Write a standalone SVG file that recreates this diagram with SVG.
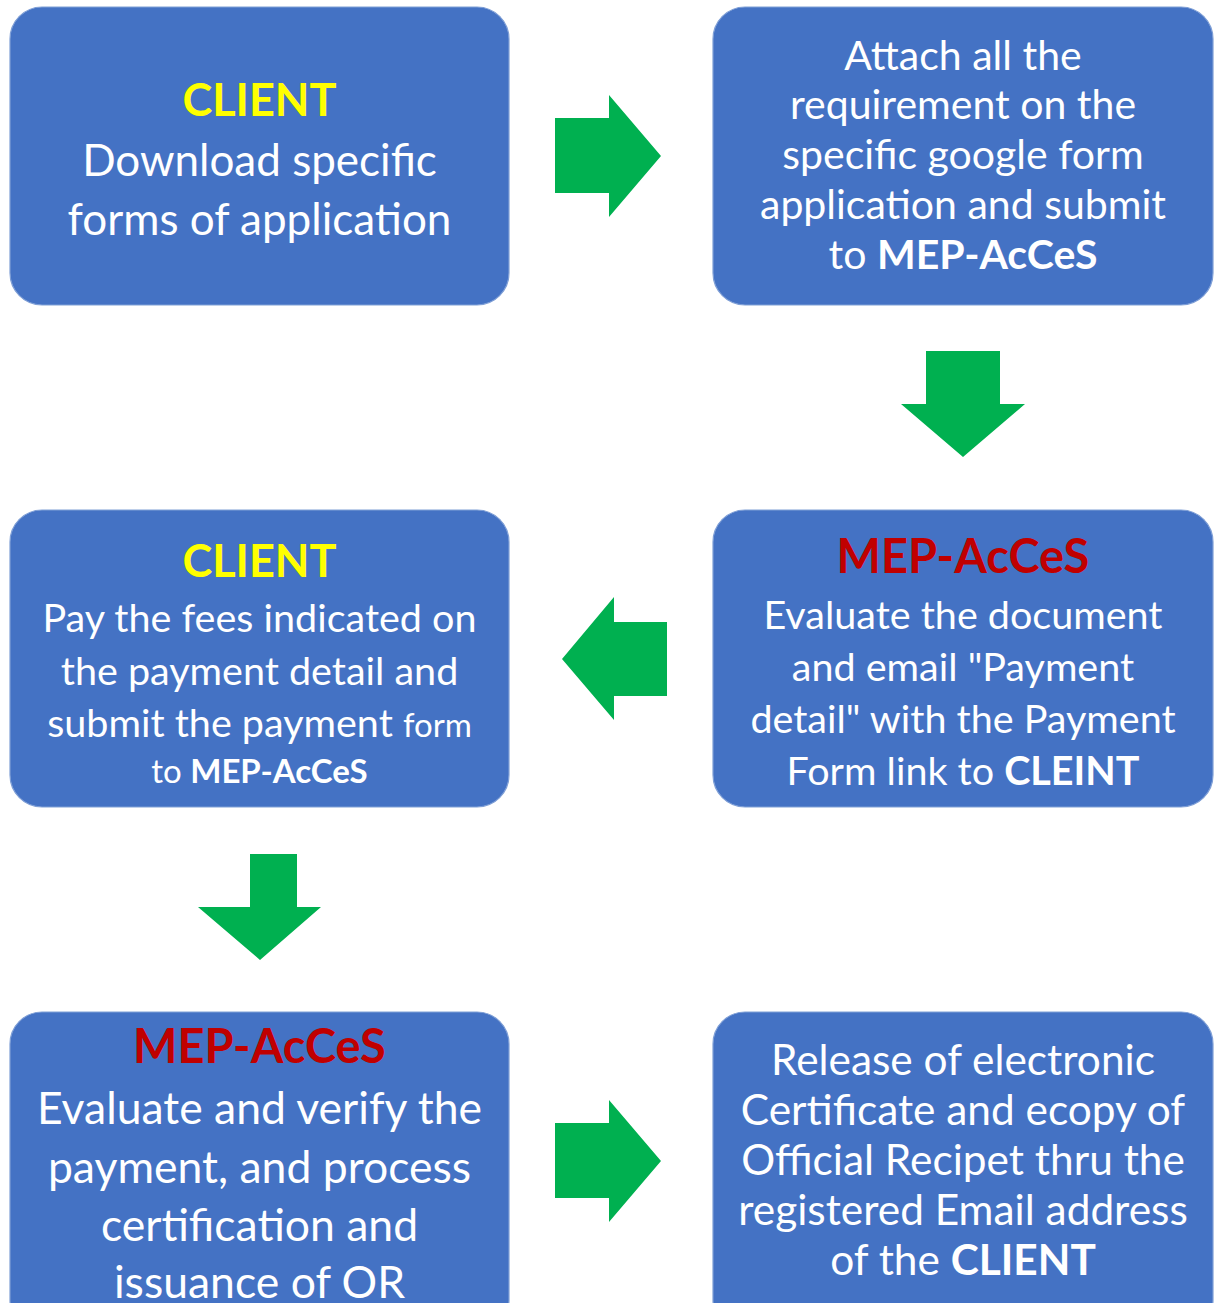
<svg xmlns="http://www.w3.org/2000/svg" width="1217" height="1303" viewBox="0 0 1217 1303">
  <style>
    .box { fill: #4472C4; stroke: #7f9fd6; stroke-width: 1.2; }
    .arrow { fill: #00B050; }
    text { font-family: Lato, "Open Sans", "Liberation Sans", sans-serif; fill: #FFFFFF; text-anchor: middle; }
    .who { font-weight: bold; }
    .client { fill: #FFFF00; }
    .mep { fill: #C00000; }
    .b { font-weight: bold; }
  </style>
  <rect width="1217" height="1303" fill="#FFFFFF"/>

  <!-- Step 1 -->
  <g id="step1-download">
    <rect class="box" x="10" y="7" width="499" height="298" rx="32"/>
    <text x="259.5" y="116" font-size="45" class="who client">CLIENT</text>
    <text x="259.5" y="176" font-size="44">Download specific</text>
    <text x="259.5" y="235" font-size="44">forms of application</text>
  </g>

  <!-- Step 2 -->
  <g id="step2-attach">
    <rect class="box" x="713" y="7" width="500" height="298" rx="32"/>
    <text x="963" y="70" font-size="41">Attach all the</text>
    <text x="963" y="119" font-size="41">requirement on the</text>
    <text x="963" y="169" font-size="41">specific google form</text>
    <text x="963" y="219" font-size="41">application and submit</text>
    <text x="963" y="269" font-size="41">to <tspan class="b">MEP-AcCeS</tspan></text>
  </g>

  <!-- Step 3 -->
  <g id="step3-evaluate-document">
    <rect class="box" x="713" y="510" width="500" height="297" rx="32"/>
    <text x="963" y="573" font-size="47" class="who mep">MEP-AcCeS</text>
    <text x="963" y="629" font-size="39.5">Evaluate the document</text>
    <text x="963" y="681" font-size="39.5">and email "Payment</text>
    <text x="963" y="733" font-size="39.5">detail" with the Payment</text>
    <text x="963" y="785" font-size="39.5">Form link to <tspan class="b">CLEINT</tspan></text>
  </g>

  <!-- Step 4 -->
  <g id="step4-pay-fees">
    <rect class="box" x="10" y="510" width="499" height="297" rx="32"/>
    <text x="259.5" y="577" font-size="45" class="who client">CLIENT</text>
    <text x="259.5" y="632" font-size="39.5">Pay the fees indicated on</text>
    <text x="259.5" y="685" font-size="39.5">the payment detail and</text>
    <text x="259.5" y="737" font-size="39.5">submit the payment <tspan font-size="33">form</tspan></text>
    <text x="259.5" y="783" font-size="33">to <tspan class="b">MEP-AcCeS</tspan></text>
  </g>

  <!-- Step 5 -->
  <g id="step5-verify-payment">
    <rect class="box" x="10" y="1012" width="499" height="320" rx="32"/>
    <text x="259.5" y="1063" font-size="47" class="who mep">MEP-AcCeS</text>
    <text x="259.5" y="1124" font-size="44.5">Evaluate and verify the</text>
    <text x="259.5" y="1183" font-size="44.5">payment, and process</text>
    <text x="259.5" y="1241" font-size="44.5">certification and</text>
    <text x="259.5" y="1298" font-size="44.5">issuance of OR</text>
  </g>

  <!-- Step 6 -->
  <g id="step6-release">
    <rect class="box" x="713" y="1012" width="500" height="320" rx="32"/>
    <text x="963" y="1075" font-size="42.4">Release of electronic</text>
    <text x="963" y="1125" font-size="42.4">Certificate and ecopy of</text>
    <text x="963" y="1175" font-size="42.4">Official Recipet thru the</text>
    <text x="963" y="1225" font-size="42.4">registered Email address</text>
    <text x="963" y="1275" font-size="42.4">of the <tspan class="b">CLIENT</tspan></text>
  </g>

  <!-- Block arrows between steps -->
  <g id="connectors">
    <polygon class="arrow" points="555,118 609,118 609,95 661,156 609,217 609,193 555,193"/>
    <polygon class="arrow" points="926,351 1000,351 1000,404 1025,404 963,457 901,404 926,404"/>
    <polygon class="arrow" points="667,622 614,622 614,597 562,659 614,720 614,696 667,696"/>
    <polygon class="arrow" points="250,854 297,854 297,907 321,907 260,960 198,907 250,907"/>
    <polygon class="arrow" points="555,1123 609,1123 609,1100 661,1161 609,1222 609,1198 555,1198"/>
  </g>
</svg>
